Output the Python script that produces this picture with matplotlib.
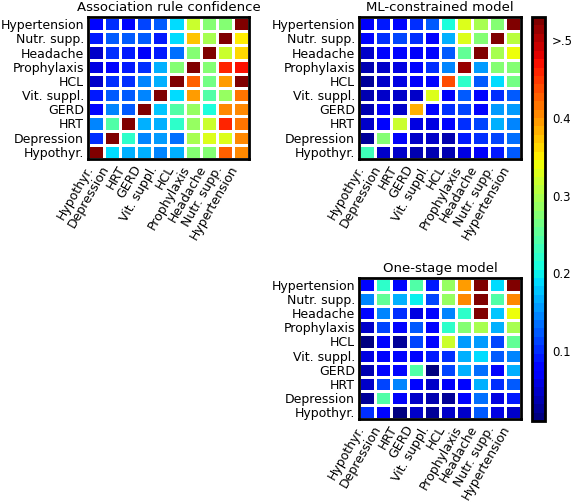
import numpy as np
import matplotlib
matplotlib.use('Agg')
import matplotlib.pyplot as plt

# rows listed top to bottom, columns left to right
row_labels = ['Hypertension', 'Nutr. supp.', 'Headache', 'Prophylaxis', 'HCL',
              'Vit. suppl.', 'GERD', 'HRT', 'Depression', 'Hypothyr.']
col_labels = ['Hypothyr.', 'Depression', 'HRT', 'GERD', 'Vit. suppl.', 'HCL',
              'Prophylaxis', 'Headache', 'Nutr. supp.', 'Hypertension']

assoc = [
    [0.08, 0.10, 0.08, 0.11, 0.12, 0.19, 0.32, 0.28, 0.27, 0.55],
    [0.09, 0.12, 0.12, 0.12, 0.09, 0.19, 0.37, 0.30, 0.55, 0.35],
    [0.05, 0.10, 0.09, 0.07, 0.09, 0.13, 0.27, 0.55, 0.32, 0.36],
    [0.06, 0.075, 0.09, 0.10, 0.165, 0.27, 0.55, 0.28, 0.455, 0.47],
    [0.05, 0.10, 0.10, 0.15, 0.165, 0.55, 0.43, 0.26, 0.39, 0.55],
    [0.09, 0.125, 0.125, 0.15, 0.55, 0.19, 0.39, 0.24, 0.29, 0.415],
    [0.08, 0.145, 0.12, 0.55, 0.18, 0.24, 0.29, 0.21, 0.40, 0.40],
    [0.14, 0.24, 0.55, 0.17, 0.17, 0.22, 0.29, 0.32, 0.46, 0.415],
    [0.10, 0.55, 0.22, 0.14, 0.16, 0.13, 0.30, 0.33, 0.33, 0.40],
    [0.55, 0.19, 0.165, 0.165, 0.15, 0.165, 0.28, 0.27, 0.43, 0.40],
]

ml_constrained = [
    [0.07, 0.09, 0.08, 0.10, 0.125, 0.21, 0.33, 0.30, 0.28, 0.55],
    [0.075, 0.10, 0.11, 0.10, 0.085, 0.165, 0.33, 0.27, 0.55, 0.31],
    [0.05, 0.085, 0.08, 0.07, 0.085, 0.12, 0.25, 0.55, 0.30, 0.34],
    [0.04, 0.05, 0.055, 0.08, 0.10, 0.15, 0.51, 0.16, 0.27, 0.27],
    [0.03, 0.05, 0.055, 0.07, 0.075, 0.44, 0.22, 0.125, 0.19, 0.26],
    [0.035, 0.045, 0.045, 0.05, 0.33, 0.065, 0.12, 0.08, 0.10, 0.125],
    [0.035, 0.065, 0.045, 0.38, 0.075, 0.10, 0.11, 0.08, 0.16, 0.16],
    [0.05, 0.085, 0.32, 0.055, 0.055, 0.08, 0.10, 0.11, 0.165, 0.145],
    [0.03, 0.28, 0.07, 0.045, 0.05, 0.035, 0.09, 0.10, 0.11, 0.13],
    [0.23, 0.045, 0.045, 0.04, 0.035, 0.04, 0.055, 0.07, 0.09, 0.12],
]

one_stage = [
    [0.08, 0.22, 0.075, 0.24, 0.09, 0.29, 0.39, 0.55, 0.19, 0.55],
    [0.145, 0.25, 0.17, 0.20, 0.11, 0.29, 0.41, 0.55, 0.24, 0.41],
    [0.075, 0.145, 0.10, 0.055, 0.08, 0.145, 0.22, 0.55, 0.18, 0.34],
    [0.045, 0.11, 0.085, 0.125, 0.08, 0.22, 0.28, 0.30, 0.17, 0.30],
    [0.02, 0.075, 0.03, 0.11, 0.08, 0.32, 0.16, 0.16, 0.11, 0.25],
    [0.055, 0.085, 0.08, 0.075, 0.09, 0.10, 0.165, 0.19, 0.125, 0.145],
    [0.035, 0.075, 0.08, 0.24, 0.015, 0.11, 0.165, 0.13, 0.085, 0.17],
    [0.045, 0.11, 0.145, 0.075, 0.05, 0.065, 0.085, 0.165, 0.10, 0.12],
    [0.025, 0.24, 0.065, 0.05, 0.035, 0.025, 0.08, 0.13, 0.055, 0.09],
    [0.10, 0.085, 0.02, 0.045, 0.025, 0.045, 0.05, 0.125, 0.055, 0.05],
]

cbar_ticks = [0.1, 0.2, 0.3, 0.4, 0.5]
cbar_ticklabels = ['0.1', '0.2', '0.3', '0.4', '>.5']

vmin, vmax = 0.01, 0.53
cmap = plt.get_cmap('jet', 48)

fig = plt.figure(figsize=(5.74, 5.03), dpi=100)


def heat(rect, data, title):
    ax = fig.add_axes(rect)
    Z = np.array(data)[::-1]
    m = ax.pcolormesh(Z, cmap=cmap, vmin=vmin, vmax=vmax,
                      edgecolors='white', linewidth=1.8)
    ax.set_xlim(0, 10)
    ax.set_ylim(0, 10)
    ax.set_xticks(np.arange(10) + 0.5)
    ax.set_yticks(np.arange(10) + 0.5)
    ax.set_xticklabels(col_labels, rotation=60, ha='right', fontsize=9)
    ax.set_yticklabels(row_labels[::-1], fontsize=9)
    ax.tick_params(length=0, pad=3)
    for s in ax.spines.values():
        s.set_linewidth(2)
    ax.set_title(title, fontsize=9.5, pad=4)
    return m


m = heat([0.1533, 0.6839, 0.2805, 0.2823], assoc, 'Association rule confidence')
heat([0.6254, 0.6839, 0.2822, 0.2823], ml_constrained, 'ML-constrained model')
heat([0.6254, 0.1670, 0.2822, 0.2803], one_stage, 'One-stage model')

cax = fig.add_axes([0.9268, 0.1630, 0.0226, 0.8032])
cb = fig.colorbar(m, cax=cax)
cb.set_ticks(cbar_ticks)
cb.set_ticklabels(cbar_ticklabels)
cb.ax.tick_params(length=0, labelsize=8.5, pad=5)
cb.outline.set_linewidth(2)

fig.savefig('out.png', dpi=100)
